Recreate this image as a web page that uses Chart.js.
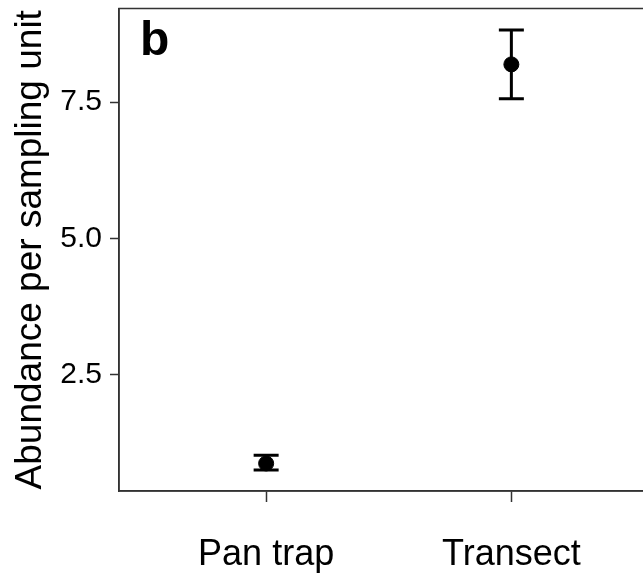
<!DOCTYPE html>
<html>
<head>
<meta charset="utf-8">
<script src="https://cdn.jsdelivr.net/npm/chart.js@4"></script>
<style>
  html, body { margin: 0; padding: 0; background: #fff; overflow: hidden; }
  canvas { display: block; }
</style>
</head>
<body>
<canvas id="chart" width="667" height="576"></canvas>
<script>
const categories = ["Pan trap", "Transect"];
const means = [0.87, 8.19];
const lower = [0.75, 7.56];
const upper = [1.02, 8.82];
const yTicks = [2.5, 5.0, 7.5];
const panelLabel = "b";

const fontFamily = "'Liberation Sans', Arial, sans-serif";

const errorBars = {
    id: "errorBars",
    afterDatasetsDraw(chart) {
        const ctx = chart.ctx;
        const x = chart.scales.x;
        const y = chart.scales.y;
        ctx.save();
        ctx.strokeStyle = "#000";
        ctx.lineWidth = 3;
        for (let i = 0; i < categories.length; i++) {
            const px = x.getPixelForValue(i + 1);
            const top = y.getPixelForValue(upper[i]);
            const bot = y.getPixelForValue(lower[i]);
            ctx.beginPath();
            ctx.moveTo(px, top);
            ctx.lineTo(px, bot);
            ctx.moveTo(px - 12.5, top);
            ctx.lineTo(px + 12.5, top);
            ctx.moveTo(px - 12.5, bot);
            ctx.lineTo(px + 12.5, bot);
            ctx.stroke();
        }
        ctx.restore();
    },
};

const frame = {
    id: "frame",
    afterDraw(chart) {
        const ctx = chart.ctx;
        const a = chart.chartArea;
        ctx.save();
        ctx.strokeStyle = "#333";
        ctx.lineWidth = 1.5;
        ctx.strokeRect(a.left, a.top, a.right - a.left, a.bottom - a.top);
        ctx.fillStyle = "#000";
        ctx.font = "bold 48px " + fontFamily;
        ctx.textBaseline = "alphabetic";
        ctx.textAlign = "left";
        ctx.fillText(panelLabel, a.left + 21, a.top + 46);
        ctx.restore();
    },
};

const config = {
    type: "scatter",
    data: {
        datasets: [
            {
                data: means.map((m, i) => ({ x: i + 1, y: m })),
                backgroundColor: "#000",
                borderColor: "#000",
                pointRadius: 7.5,
                pointHoverRadius: 7.5,
            },
        ],
    },
    options: {
        responsive: false,
        animation: false,
        layout: {
            padding: { top: 6, right: 2, left: 0, bottom: 0 },
        },
        scales: {
            x: {
                type: "linear",
                min: 0.4,
                max: 2.6,
                afterBuildTicks: (scale) => {
                    scale.ticks = categories.map((c, i) => ({ value: i + 1 }));
                },
                afterFit: (scale) => {
                    scale.height = 85;
                    scale.paddingLeft = 0;
                    scale.paddingRight = 0;
                },
                grid: {
                    drawOnChartArea: false,
                    drawTicks: true,
                    tickLength: 11,
                    tickColor: "#333",
                    tickWidth: 1.5,
                },
                border: { display: true, color: "#333", width: 1.5 },
                ticks: {
                    padding: 31,
                    color: "#000",
                    font: { family: fontFamily, size: 36 },
                    maxRotation: 0,
                    callback: (val) => categories[Math.round(val) - 1],
                },
            },
            y: {
                type: "linear",
                min: 0.365,
                max: 9.215,
                afterBuildTicks: (scale) => {
                    scale.ticks = yTicks.map((v) => ({ value: v }));
                },
                afterFit: (scale) => {
                    scale.width = 119;
                    scale.paddingTop = 0;
                    scale.paddingBottom = 0;
                },
                grid: {
                    drawOnChartArea: false,
                    drawTicks: true,
                    tickLength: 9,
                    tickColor: "#333",
                    tickWidth: 1.5,
                },
                border: { display: true, color: "#333", width: 1.5 },
                ticks: {
                    padding: 8,
                    color: "#000",
                    font: { family: fontFamily, size: 30 },
                    callback: (val) => val.toFixed(1),
                },
                title: {
                    display: true,
                    text: "Abundance per sampling unit",
                    color: "#000",
                    font: { family: fontFamily, size: 37 },
                    padding: { top: 9, bottom: 0 },
                },
            },
        },
        plugins: {
            legend: { display: false },
            tooltip: { enabled: false },
        },
    },
    plugins: [errorBars, frame],
};

window.addEventListener("DOMContentLoaded", () => {
    new Chart(document.getElementById("chart"), config);
});
</script>
</body>
</html>
